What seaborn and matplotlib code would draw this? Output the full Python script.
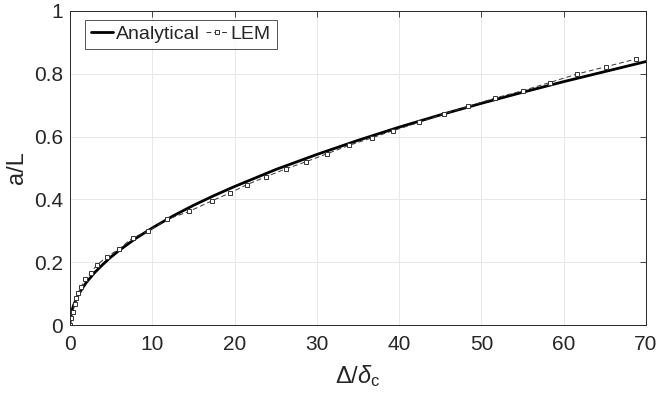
import numpy as np
import pandas as pd
import seaborn as sns
import matplotlib
matplotlib.use("Agg")
import matplotlib.pyplot as plt

# Analytical crack length vs. normalised opening
disp_analytical = [0, 0.02, 0.05, 0.1, 0.2, 0.35, 0.5, 0.75, 1, 1.5, 2, 3, 4, 5, 6, 8,
                   10, 12.5, 15, 17.5, 20, 25, 30, 35, 40, 45, 50, 55, 60, 65, 70]
crack_analytical = [0, 0.013, 0.021, 0.029, 0.042, 0.056, 0.067, 0.082, 0.095, 0.117,
                    0.136, 0.167, 0.193, 0.217, 0.238, 0.276, 0.309, 0.347, 0.381, 0.412,
                    0.441, 0.495, 0.543, 0.588, 0.630, 0.669, 0.706, 0.741, 0.775, 0.807,
                    0.839]

# Lattice element model results
disp_lem = [0, 0.15, 0.33, 0.57, 0.73, 0.97, 1.37, 1.86, 2.52, 3.24, 4.46, 5.92, 7.62,
            9.48, 11.8, 14.5, 17.3, 19.4, 21.5, 23.8, 26.2, 28.7, 31.2, 33.9, 36.7, 39.3,
            42.4, 45.4, 48.4, 51.7, 55.0, 58.3, 61.6, 65.2, 68.8]
crack_lem = [0, 0.022, 0.040, 0.067, 0.085, 0.103, 0.122, 0.146, 0.167, 0.190, 0.217,
             0.241, 0.278, 0.299, 0.336, 0.362, 0.396, 0.420, 0.447, 0.472, 0.497, 0.520,
             0.545, 0.572, 0.596, 0.619, 0.645, 0.672, 0.696, 0.723, 0.746, 0.772, 0.799,
             0.823, 0.847]

x_ticks = [0, 10, 20, 30, 40, 50, 60, 70]
y_ticks = [0, 0.2, 0.4, 0.6, 0.8, 1]
y_tick_labels = ["0", "0.2", "0.4", "0.6", "0.8", "1"]

df_an = pd.DataFrame({"disp": disp_analytical, "crack": crack_analytical})
df_lem = pd.DataFrame({"disp": disp_lem, "crack": crack_lem})

sns.set_theme(style="white")
plt.rcParams["font.family"] = ["Liberation Sans", "DejaVu Sans"]
plt.rcParams["mathtext.fontset"] = "custom"
plt.rcParams["mathtext.rm"] = "Liberation Sans"
plt.rcParams["mathtext.it"] = "Liberation Sans:italic"
plt.rcParams["mathtext.bf"] = "Liberation Sans:bold"

fig = plt.figure(figsize=(6.59, 3.98), dpi=100)
ax = fig.add_axes([0.1062, 0.1834, 0.8740, 0.7890])

sns.lineplot(data=df_an, x="disp", y="crack", ax=ax, color="black", linewidth=2.0,
             label="Analytical", sort=False, estimator=None)
sns.lineplot(data=df_lem, x="disp", y="crack", ax=ax, color="#333333", linewidth=0.7,
             linestyle=(0, (5, 3)), marker="s", markersize=3.5, markerfacecolor="white",
             markeredgecolor="#333333", markeredgewidth=0.7, label="LEM",
             sort=False, estimator=None)

ax.set_xlim(0, 70)
ax.set_ylim(0, 1)
ax.set_xticks(x_ticks)
ax.set_yticks(y_ticks)
ax.set_yticklabels(y_tick_labels)
ax.grid(True, color="#e8e8e8", linewidth=0.7)
ax.set_axisbelow(True)
for s in ax.spines.values():
    s.set_color("#262626")
    s.set_linewidth(0.7)
ax.tick_params(direction="in", length=4, width=0.6, colors="#262626",
               labelsize=15, top=True, right=True, labelcolor="#262626", pad=5)
ax.tick_params(axis="x", pad=7)

ax.set_xlabel(r"$\Delta/\delta_{\mathrm{c}}$", fontsize=17, color="#262626", labelpad=7)
ax.set_ylabel("a/L", fontsize=17, color="#262626", labelpad=4)

leg = ax.legend(loc="upper left", bbox_to_anchor=(0.026, 0.972), borderaxespad=0,
                ncol=2, frameon=True, fancybox=False, edgecolor="#262626",
                fontsize=14, handlelength=1.15, handletextpad=0.12, columnspacing=0.35,
                borderpad=0.3)
leg.get_frame().set_linewidth(0.7)

fig.savefig("out.png", dpi=100, facecolor="white")
